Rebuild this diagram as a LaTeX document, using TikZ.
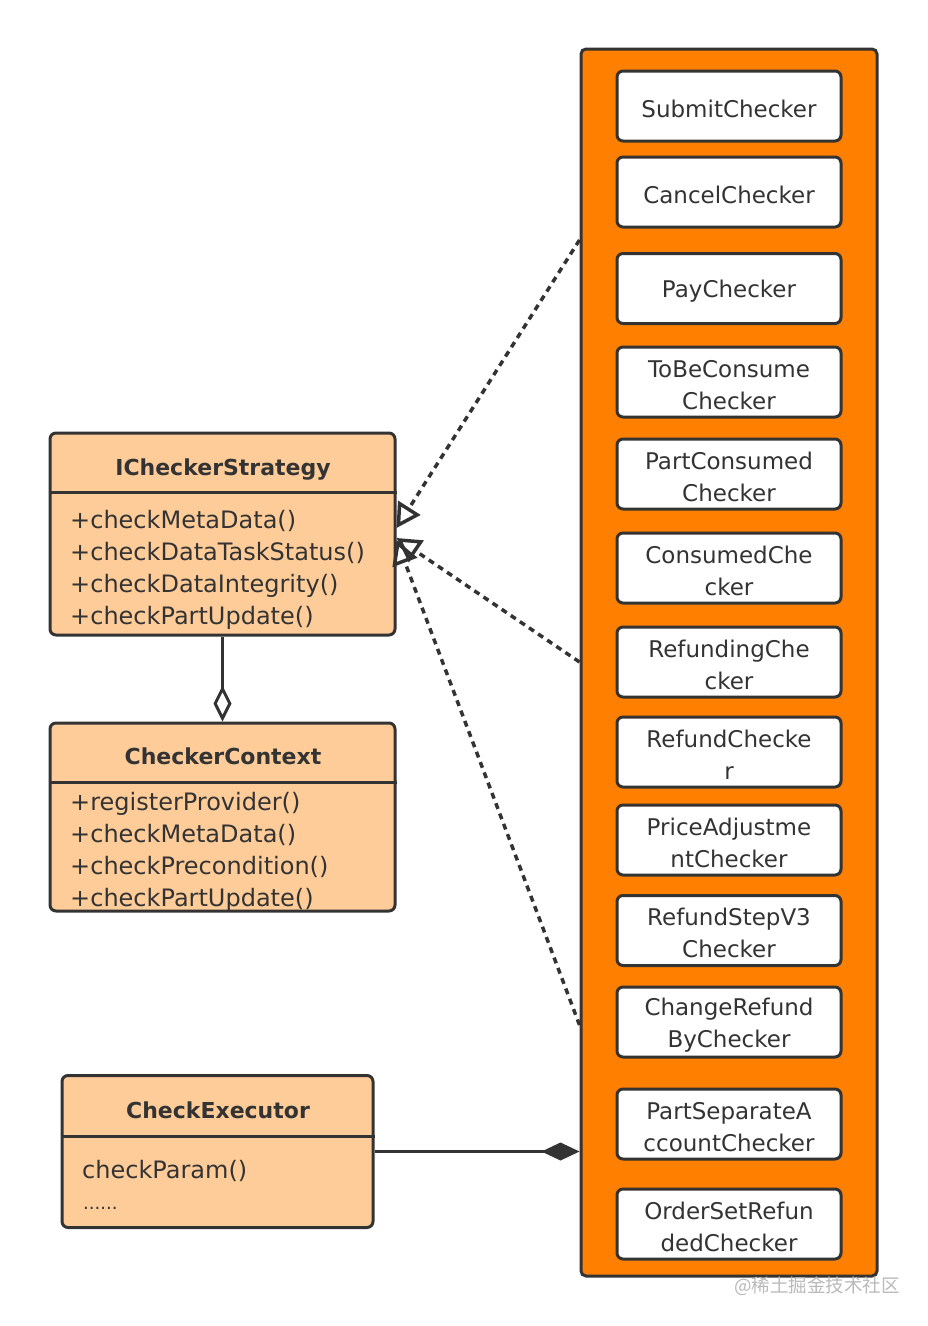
\documentclass[tikz,border=0pt]{standalone}
\usepackage{fontspec}
\setmainfont{DejaVu Sans}
\newfontfamily\cjkfont{Noto Sans CJK SC}
\usetikzlibrary{arrows.meta,positioning}

\definecolor{linea}{HTML}{333333}
\definecolor{naranja}{HTML}{FF8000}
\definecolor{melocoton}{HTML}{FECC99}

\tikzset{
    caja/.style={draw=linea,line width=3pt,rounded corners=6pt,fill=white,text=linea,
        minimum width=224pt,minimum height=70pt,inner sep=0pt,align=center,
        font=\fontsize{23}{32}\selectfont},
    clase/.style={draw=linea,line width=3pt,rounded corners=6pt,fill=melocoton,inner sep=0pt},
    titulo/.style={anchor=base,text=linea,inner sep=0pt,font=\fontsize{22}{28}\selectfont\bfseries},
    metodo/.style={anchor=base west,text=linea,inner sep=0pt,font=\fontsize{24}{28}\selectfont},
    impl/.style={draw=linea,line width=3.5pt,dash pattern=on 6pt off 5pt,
        -{Triangle[open,length=24pt,width=26pt]}},
    agreg/.style={draw=linea,line width=3pt,-{Diamond[open,length=36pt,width=18pt,fill=white]}},
    compo/.style={draw=linea,line width=3pt,-{Diamond[length=38pt,width=18pt]}}
}

\begin{document}
\begin{tikzpicture}[x=1pt,y=-1pt]

    \useasboundingbox (0,0) rectangle (927,1326);

    \def\cx{729}%Centro de las cajas
    
    %Contenedor
    \node[draw=linea,line width=3pt,rounded corners=5pt,fill=naranja,minimum width=296pt,
        minimum height=1227pt,inner sep=0pt] (cont) at (729,662.5) {};

    %Checkers
    \foreach \y/\nombre/\txt in {106/submit/SubmitChecker,
        192/cancel/CancelChecker,
        288.5/pay/PayChecker,
        382/tobe/ToBeConsume\\Checker,
        474/partcons/PartConsumed\\Checker,
        568/consumed/ConsumedChe\\cker,
        662/refunding/RefundingChe\\cker,
        752/refund/RefundChecke\\r,
        840/price/PriceAdjustme\\ntChecker,
        930.5/stepv/RefundStepV3\\Checker,
        1022/changeby/ChangeRefund\\ByChecker,
        1124/separate/PartSeparateA\\ccountChecker,
        1224/setrefunded/OrderSetRefun\\dedChecker}{
        \node[caja] (\nombre) at (\cx,\y) {\rule{0pt}{23pt}\txt};
    }

    %ICheckerStrategy
    \node[clase,minimum width=345pt,minimum height=202pt] (strat) at (222.5,534) {};
    \draw[draw=linea,line width=3pt] (strat.west |- 0,492) -- (strat.east |- 0,492);
    \node[titulo] (strattit) at (223,475) {ICheckerStrategy};
    \foreach \y/\nombre/\txt in {528/sm1/+checkMetaData(),
        560/sm2/+checkDataTaskStatus(),
        592/sm3/+checkDataIntegrity(),
        624/sm4/+checkPartUpdate()}
        \node[metodo] (\nombre) at (70,\y) {\txt};

    %CheckerContext
    \node[clase,minimum width=345pt,minimum height=188pt] (ctx) at (222.5,817) {};
    \draw[draw=linea,line width=3pt] (ctx.west |- 0,782) -- (ctx.east |- 0,782);
    \node[titulo] (ctxtit) at (223,764) {CheckerContext};
    \foreach \y/\nombre/\txt in {810/cm1/+registerProvider(),
        842/cm2/+checkMetaData(),
        874/cm3/+checkPrecondition(),
        906/cm4/+checkPartUpdate()}
        \node[metodo] (\nombre) at (70,\y) {\txt};

    %CheckExecutor
    \node[clase,minimum width=311pt,minimum height=152pt] (exec) at (217.5,1151.5) {};
    \draw[draw=linea,line width=3pt] (exec.west |- 0,1136) -- (exec.east |- 0,1136);
    \node[titulo] (exectit) at (218,1118) {CheckExecutor};
    \node[metodo] (em1) at (82,1178) {checkParam()};
    \node[metodo,font=\fontsize{18}{20}\selectfont] (em2) at (83,1209) {......};

    %Relaciones
    \coordinate (imp1) at (cont.west |- 0,240);
    \coordinate (imp2) at (cont.west |- 0,662);
    \coordinate (imp3) at (cont.west |- 0,1025);
    \draw[impl] (imp1) -- ([yshift=6pt]strat.east);
    \draw[impl] (imp2) -- ([yshift=-4pt]strat.east);
    \draw[impl] (imp3) -- ([yshift=-6pt]strat.east);
    \draw[agreg] (strat.south) -- (ctx.north);
    \draw[compo] (exec.east) -- (exec.east -| cont.west);

    %Marca
    \node[text=gray!55,inner sep=0pt,font=\cjkfont\fontsize{18.5}{20}\selectfont] (marca) at (817,1286) {@稀土掘金技术社区};
\end{tikzpicture}
\end{document}
